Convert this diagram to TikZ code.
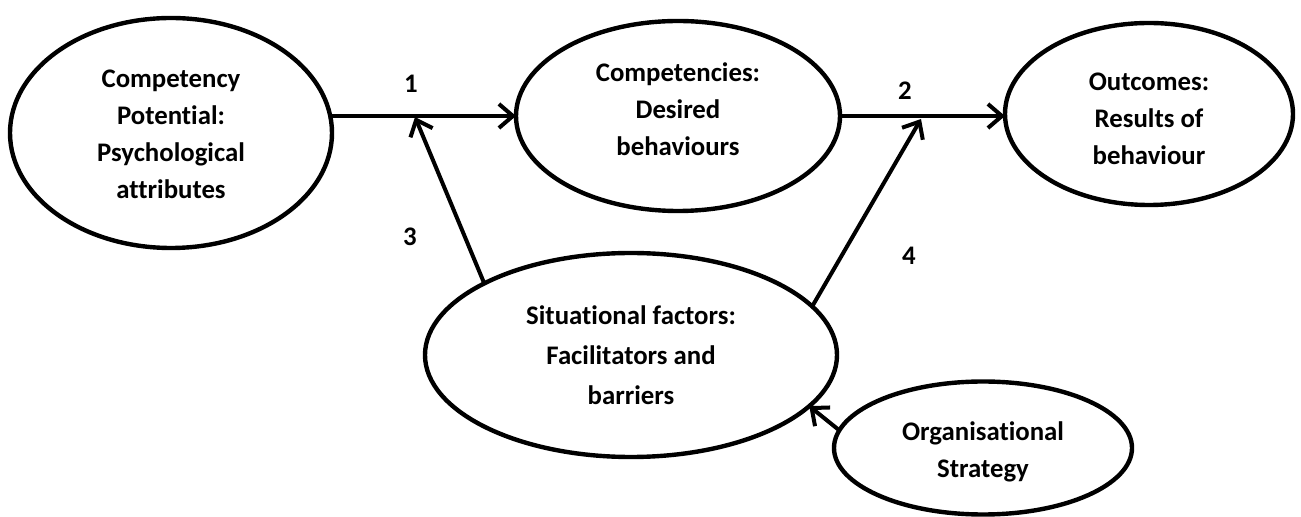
\documentclass[tikz,border=0pt]{standalone}
\usepackage{fontspec}
\setmainfont{Carlito}[RawFeature={-liga;-clig;-calt;-dlig}]
\usetikzlibrary{arrows.meta,shapes.geometric}
\begin{document}
\begin{tikzpicture}[x=0.5pt,y=-0.5pt,
  txt/.style={font=\bfseries\fontsize{13.4}{18.5}\selectfont, align=center, inner sep=0pt},
  oval/.style={draw, ellipse, line width=2.2pt, inner sep=0pt, outer sep=0pt},
  arr/.style={line width=2pt, -{Straight Barb[length=7pt,width=12pt,line width=2pt]}},
  num/.style={txt}]
\useasboundingbox (0,0) rectangle (1301,517);
% model components (text set as a centred label inside each ellipse)
\node[oval, minimum width=161pt, minimum height=115pt,
  label={[txt, yshift=-0.8pt]center:Competency\\Potential:\\Psychological\\attributes}]
  (pot) at (171,133) {};
\node[oval, minimum width=162pt, minimum height=95pt,
  label={[txt, yshift=3.3pt]center:Competencies:\\Desired\\behaviours}]
  (comp) at (678,116) {};
\node[oval, minimum width=144pt, minimum height=91pt,
  label={[txt, yshift=-2.2pt]center:Outcomes:\\Results of\\behaviour}]
  (out) at (1149,114) {};
\node[oval, minimum width=206pt, minimum height=102pt,
  label={[txt, font=\bfseries\fontsize{13.4}{20}\selectfont, yshift=0pt]center:Situational factors:\\Facilitators and\\barriers}]
  (sit) at (631,355) {};
\node[oval, minimum width=149pt, minimum height=66.5pt,
  label={[txt, yshift=-2pt]center:Organisational\\Strategy}]
  (org) at (983,448) {};
% junctions on the main links
\coordinate (j1) at (415,117);
\coordinate (j2) at (921,119);
% links
\draw[arr] (comp.west -| pot.east) -- (comp.west);
\draw[arr] (comp.east) -- (comp.east -| out.west);
\draw[arr] (sit.154) -- (j1);
\draw[arr] (sit.15) -- (j2);
\draw[arr] (org.173) -- (sit.-16);
% link numbers
\node[num] (n1) at (411,84) {1};
\node[num] (n2) at (905,91) {2};
\node[num] (n3) at (410,237) {3};
\node[num] (n4) at (909,256) {4};
\end{tikzpicture}
\end{document}
